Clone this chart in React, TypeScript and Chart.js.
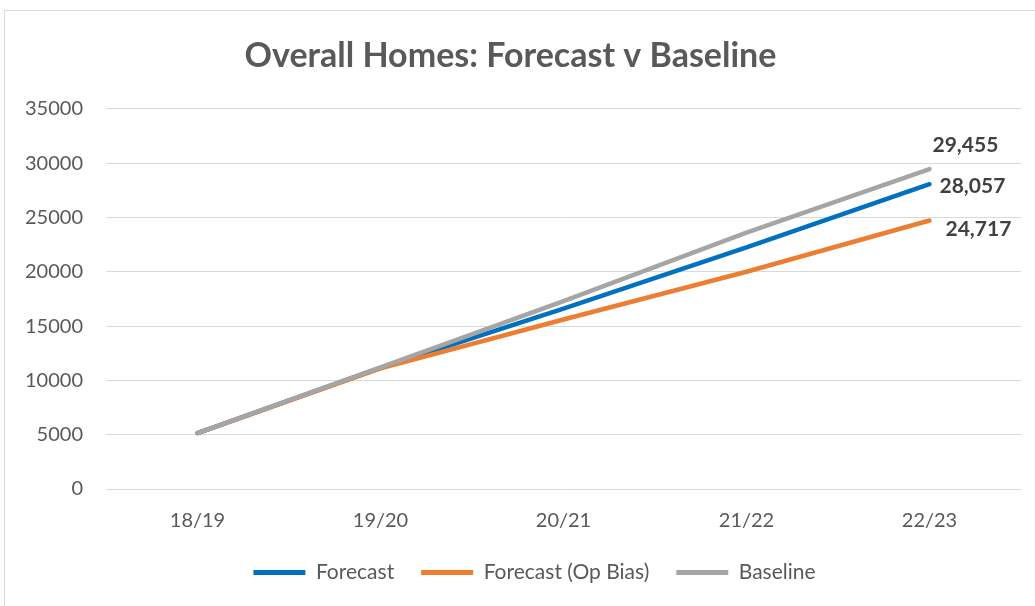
import React, { useEffect, useRef } from "react";
import { Chart, registerables } from "chart.js";

Chart.register(...registerables);

// Financial years on the x axis
const years = ["18/19", "19/20", "20/21", "21/22", "22/23"];

// Homes per year for each scenario
const forecast = [5150, 11150, 16600, 22250, 28057];
const forecastOpBias = [5150, 11100, 15600, 20000, 24717];
const baseline = [5150, 11200, 17300, 23600, 29455];

// Y axis range and step
const yMin = 0;
const yMax = 35000;
const yStep = 5000;

const seriesNames = ["Forecast", "Forecast (Op Bias)", "Baseline"];
const seriesColors = ["#0070C0", "#ED7D31", "#A5A5A5"];

// Placement of the end-of-line value labels relative to the last point
const endLabelOffsets = [
  { dx: 10, dy: 2 },
  { dx: 16, dy: 9 },
  { dx: 3, dy: -24 },
];

const endLabels = {
  id: "endLabels",
  afterDatasetsDraw(chart: any) {
    const ctx = chart.ctx;
    ctx.save();
    ctx.font = "bold 21px Lato";
    ctx.fillStyle = "#404040";
    ctx.textAlign = "left";
    ctx.textBaseline = "middle";
    chart.data.datasets.forEach((ds: any, i: number) => {
      const meta = chart.getDatasetMeta(i);
      const last = meta.data[meta.data.length - 1];
      const v = ds.data[ds.data.length - 1];
      const off = endLabelOffsets[i];
      ctx.fillText(v.toLocaleString("en-US"), last.x + off.dx, last.y + off.dy);
    });
    ctx.restore();
  },
};

// Centre the legend under the whole frame rather than the plot width
const legendShift = {
  id: "legendShift",
  afterLayout(chart: any) {
    if (chart.legend) {
      chart.legend.left += 24;
      chart.legend.right += 24;
    }
  },
};

export default function App() {
  const canvasRef = useRef<HTMLCanvasElement>(null);

  useEffect(() => {
    if (!canvasRef.current) return;
    const seriesData = [forecast, forecastOpBias, baseline];
    const chart = new Chart(canvasRef.current, {
      type: "line",
      data: {
        labels: years,
        datasets: seriesData.map((d, i) => ({
          label: seriesNames[i],
          data: d,
          borderColor: seriesColors[i],
          backgroundColor: seriesColors[i],
          borderWidth: 4.5,
          borderCapStyle: "round" as const,
          borderJoinStyle: "round" as const,
          pointRadius: 0,
          pointHoverRadius: 0,
          tension: 0,
          order: 3 - i,
        })),
      },
      options: {
        animation: false,
        responsive: true,
        maintainAspectRatio: false,
        layout: { padding: { left: 0, right: 14, top: 0, bottom: 13 } },
        plugins: {
          title: {
            display: true,
            text: "Overall Homes: Forecast v Baseline",
            color: "#595959",
            font: { family: "Lato", size: 34, weight: "bold" },
            padding: { top: 36, bottom: 32 },
          },
          legend: {
            position: "bottom",
            labels: {
              color: "#595959",
              font: { family: "Lato", size: 21 },
              boxWidth: 52,
              boxHeight: 5,
              padding: 27,
              sort: (a: any, b: any) => a.datasetIndex - b.datasetIndex,
              generateLabels: (c: any) =>
                Chart.defaults.plugins.legend.labels
                  .generateLabels(c)
                  .map((l: any) => ({ ...l, lineWidth: 0, fillStyle: l.strokeStyle })),
            },
          },
          tooltip: { enabled: false },
        },
        scales: {
          x: {
            offset: true,
            grid: { display: false, drawTicks: false },
            border: { display: false },
            ticks: {
              color: "#595959",
              font: { family: "Lato", size: 20 },
              padding: 20,
            },
            afterFit: (s: any) => {
              s.height = 46;
            },
          },
          y: {
            min: yMin,
            max: yMax,
            grid: { color: "#D9D9D9", lineWidth: 1, drawTicks: false },
            border: { display: false },
            ticks: {
              stepSize: yStep,
              color: "#595959",
              font: { family: "Lato", size: 20 },
              padding: 23,
              callback: (v: any) => String(v),
            },
            afterFit: (s: any) => {
              s.width = 106;
            },
          },
        },
      },
      plugins: [endLabels, legendShift],
    });
    return () => chart.destroy();
  }, []);

  return (
    <div
      style={{
        position: "fixed",
        left: 0,
        top: 0,
        width: 1035,
        height: 606,
        overflow: "hidden",
        background: "#fff",
      }}
    >
      <div
        style={{
          position: "absolute",
          left: 4,
          top: 10,
          width: 1100,
          height: 700,
          border: "1px solid #D9D9D9",
        }}
      />
      <div style={{ position: "absolute", left: 0, top: 0, width: 1035, height: 606 }}>
        <canvas ref={canvasRef} />
      </div>
    </div>
  );
}
